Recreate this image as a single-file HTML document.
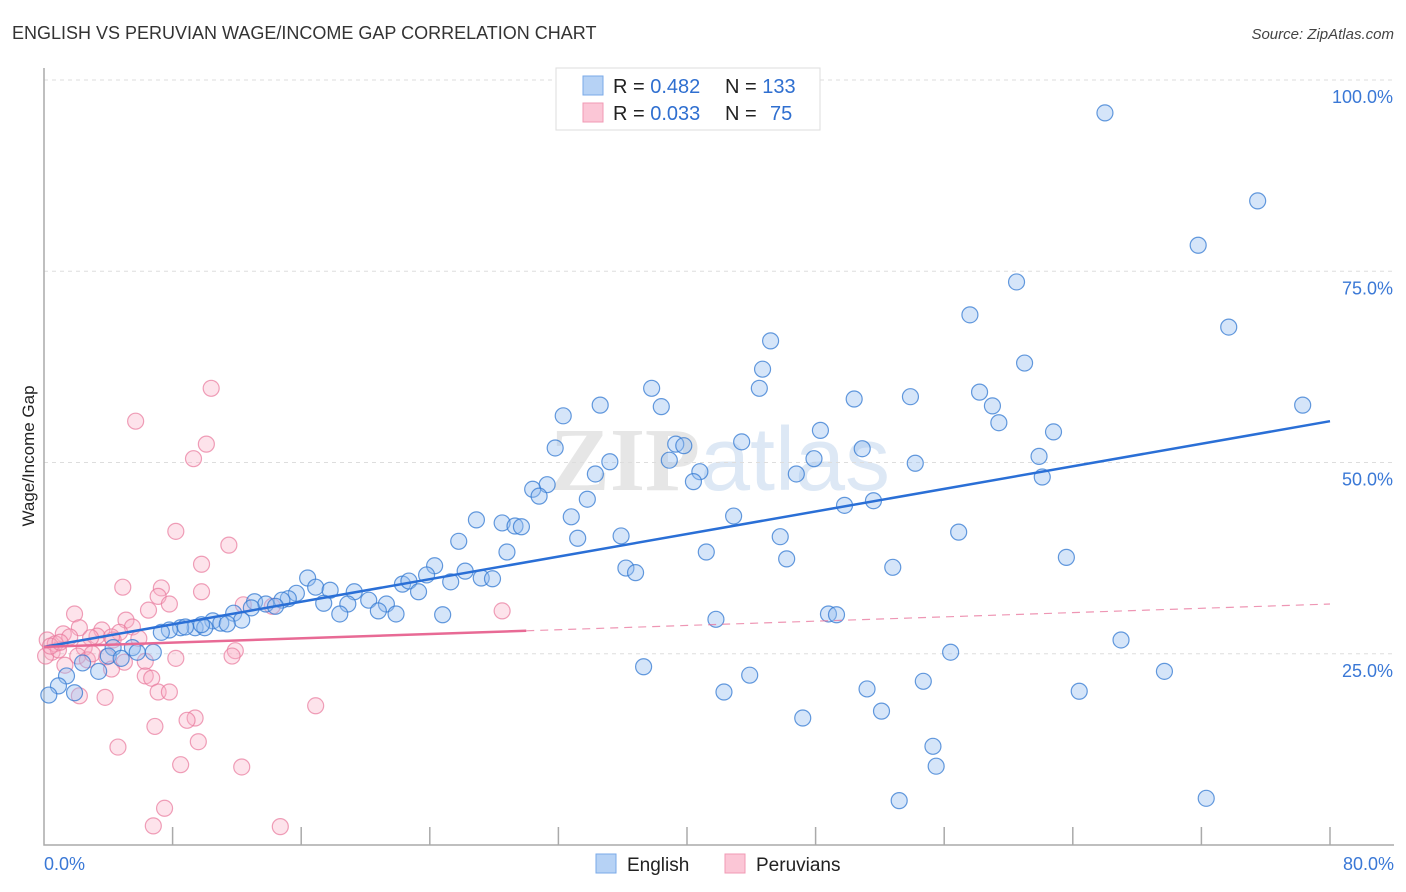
<!DOCTYPE html>
<html><head><meta charset="utf-8">
<style>
body{margin:0;background:#fff;font-family:"Liberation Sans",sans-serif;}
svg{display:block}
</style></head>
<body>
<svg id="chart" width="1406" height="892" xmlns="http://www.w3.org/2000/svg">
<text x="12" y="39" font-size="18" fill="#333">ENGLISH VS PERUVIAN WAGE/INCOME GAP CORRELATION CHART</text>
<text x="1394" y="39" font-size="15" fill="#444" text-anchor="end" font-style="italic">Source: ZipAtlas.com</text>
<text x="720" y="490" font-size="90" fill="#e6e6e6" text-anchor="middle" font-family="Liberation Serif,serif" font-weight="bold">ZIP<tspan fill="#dde8f5" font-family="Liberation Sans,sans-serif" font-weight="normal">atlas</tspan></text>
<g id="grid"></g>
<g id="axes"></g>
<g id="pts"></g>
<g id="trend"></g>
<text transform="translate(34,456) rotate(-90)" font-size="17" fill="#222" text-anchor="middle">Wage/Income Gap</text>
<g>
<rect x="556" y="68" width="264" height="62" fill="#fff" stroke="#ddd"/>
<rect x="583" y="76" width="20" height="19" fill="#b6d2f5" stroke="#7aaae8"/>
<rect x="583" y="103" width="20" height="19" fill="#fbc6d6" stroke="#f09ab4"/>
<text x="613" y="93" font-size="20" fill="#222">R = <tspan fill="#2f6fd0">0.482</tspan><tspan x="725">N = </tspan><tspan fill="#2f6fd0">133</tspan></text>
<text x="613" y="120" font-size="20" fill="#222">R = <tspan fill="#2f6fd0">0.033</tspan><tspan x="725">N = </tspan><tspan fill="#2f6fd0" x="770">75</tspan></text>
</g>
<g>
<rect x="596" y="854" width="20" height="19" fill="#b6d2f5" stroke="#7aaae8"/>
<text x="627" y="871" font-size="19" fill="#222">English</text>
<rect x="725" y="854" width="20" height="19" fill="#fbc6d6" stroke="#f09ab4"/>
<text x="756" y="871" font-size="19" fill="#222">Peruvians</text>
</g>
</svg>
<script>
const yTicks=[25,50,75,100];
const yTickLabels=["25.0%","50.0%","75.0%","100.0%"];
const xTickLabels=["0.0%","80.0%"];
const englishX=[66.0,75.5,71.8,60.5,57.6,73.7,45.2,61.0,44.7,37.8,44.5,58.2,34.6,59.0,50.4,53.9,38.4,78.3,32.3,59.4,48.3,62.8,43.4,31.8,39.3,39.8,50.9,47.9,38.9,35.2,54.2,61.9,40.8,34.3,46.8,40.4,62.1,31.3,30.4,30.8,33.8,49.8,51.6,42.9,32.8,26.9,28.5,29.3,29.7,25.8,33.2,35.9,45.8,56.9,28.8,41.2,46.2,63.6,36.2,36.8,52.8,24.3,26.2,23.8,27.2,27.9,25.3,16.4,22.3,22.7,23.3,16.9,17.8,19.3,15.7,15.2,14.8,20.2,18.9,17.4,13.1,13.8,14.4,21.3,20.8,21.9,12.9,18.4,24.8,11.8,12.3,10.5,11.0,11.4,9.4,10.0,8.5,8.8,9.8,7.8,7.3,41.8,48.8,49.3,5.5,6.8,4.3,5.8,4.0,3.4,2.4,1.4,0.9,1.9,0.3,4.8,67.0,56.4,37.3,43.9,54.7,69.7,42.3,51.2,64.4,52.1,47.2,55.3,55.5,53.2,72.3];
const englishY=[95.7,84.2,78.4,73.6,69.3,67.7,65.9,63.0,62.2,59.7,59.7,59.2,57.5,57.4,58.3,58.6,57.3,57.5,56.1,55.2,54.2,54.0,52.7,51.9,52.4,52.2,51.8,50.5,50.3,50.1,49.9,50.8,48.8,48.5,48.5,47.5,48.1,47.1,46.5,45.6,45.2,44.4,45.0,43.0,42.9,42.5,42.1,41.7,41.6,39.7,40.1,40.4,40.3,40.9,38.3,38.3,37.4,37.6,36.2,35.6,36.3,36.5,35.8,35.3,34.9,34.8,34.4,34.9,34.1,34.5,33.1,33.7,33.3,33.1,32.9,32.2,32.0,32.0,31.5,31.6,31.8,31.5,31.2,31.5,30.6,30.2,31.0,30.2,30.1,30.3,29.4,29.3,29.0,28.9,28.4,28.4,28.4,28.5,28.8,28.1,27.8,29.5,30.2,30.1,25.8,25.2,25.8,25.2,24.7,22.7,23.8,22.1,20.8,19.9,19.6,24.4,26.8,25.2,23.3,22.2,21.4,22.7,20.0,20.4,20.1,17.5,16.6,12.9,10.3,5.8,6.1];
const peruX=[10.4,5.7,10.1,9.3,8.2,11.5,9.8,4.9,7.3,9.8,7.1,7.8,6.5,12.4,14.2,28.5,1.9,5.1,5.5,2.2,3.6,3.3,1.2,1.6,2.9,4.7,0.2,0.7,0.5,0.1,0.9,2.5,4.3,3.9,5.0,6.3,2.1,11.9,11.7,8.2,6.3,6.7,4.2,1.3,2.7,2.2,3.8,7.1,7.8,16.9,9.4,8.9,6.9,9.6,4.6,8.5,12.3,7.5,6.8,14.7,4.2,0.4,1.0,3.0,5.9];
const peruY=[59.7,55.4,52.4,50.5,41.0,39.2,36.7,33.7,33.6,33.1,32.5,31.5,30.7,31.4,31.2,30.6,30.2,29.4,28.5,28.4,28.1,27.3,27.6,27.2,27.1,27.8,26.8,26.3,25.2,24.7,25.5,25.8,26.8,24.6,23.9,24.0,24.7,25.4,24.7,24.4,22.1,21.8,23.0,23.5,24.2,19.5,19.3,20.0,20.0,18.2,16.6,16.3,15.5,13.5,12.8,10.5,10.2,4.8,2.5,2.4,27.2,26.0,26.5,25.0,27.0];
const englishTrend=[25.9,55.4];
const peruTrend=[25.9,31.5];
const peruSolidEnd=30;

const NS="http://www.w3.org/2000/svg";
const X0=44,X1=1330,Y0=845,Y100=80;
const sx=v=>X0+(v/80)*(X1-X0);
const sy=v=>Y0-(v/100)*(Y0-Y100);
function mk(tag,attrs,parent){const e=document.createElementNS(NS,tag);for(const k in attrs)e.setAttribute(k,attrs[k]);parent.appendChild(e);return e;}
const grid=document.getElementById('grid'),axes=document.getElementById('axes'),pts=document.getElementById('pts'),trend=document.getElementById('trend');
yTicks.forEach((t,i)=>{
 const l=mk('line',{x1:X0,x2:1394,y1:sy(t),y2:sy(t),stroke:'#ddd','stroke-dasharray':'4,4'},grid);
 
 
 const tx=mk('text',{x:1393,y:sy(t)+23,'font-size':18,fill:'#3a78d6','text-anchor':'end'},grid);
 tx.textContent=yTickLabels[i];
 
 
});
const ax=mk('path',{d:`M${X0},68 L${X0},${Y0} L1394,${Y0}`,stroke:'#aaa',fill:'none','stroke-width':1.5},axes);


for(let i=1;i<=10;i++){
 const t=mk('line',{x1:sx(i*8),x2:sx(i*8),y1:Y0,y2:Y0-18,stroke:'#aaa','stroke-width':1.5},axes);
 
 
}
[[0,'start',X0],[80,'end',1394]].forEach((a,i)=>{
 const tx=mk('text',{x:a[2],y:870,'font-size':18,fill:'#3a78d6','text-anchor':a[1]},axes);
 tx.textContent=xTickLabels[i];
 
 
});
function dots(xs,ys,fill,stroke,name){
 xs.forEach((x,i)=>{
  const c=mk('circle',{cx:sx(x),cy:sy(ys[i]),r:8,fill:fill,stroke:stroke,'stroke-width':1.2},pts);
  
  
 });
}
dots(peruX,peruY,'rgba(248,175,198,0.35)','rgba(232,120,155,0.7)','peruvian-point');
dots(englishX,englishY,'rgba(150,190,240,0.4)','rgba(50,120,210,0.75)','english-point');
const bl=mk('line',{x1:sx(0),y1:sy(englishTrend[0]),x2:sx(80),y2:sy(englishTrend[1]),stroke:'#2a6fd6','stroke-width':2.5},trend);


const pAt=v=>peruTrend[0]+(peruTrend[1]-peruTrend[0])*v/80;
const pl=mk('line',{x1:sx(0),y1:sy(pAt(0)),x2:sx(peruSolidEnd),y2:sy(pAt(peruSolidEnd)),stroke:'#e86a95','stroke-width':2.5},trend);


const pd=mk('line',{x1:sx(peruSolidEnd),y1:sy(pAt(peruSolidEnd)),x2:sx(80),y2:sy(pAt(80)),stroke:'#e86a95','stroke-width':1.2,'stroke-dasharray':'8,6',opacity:0.7},trend);


</script>
</body></html>
